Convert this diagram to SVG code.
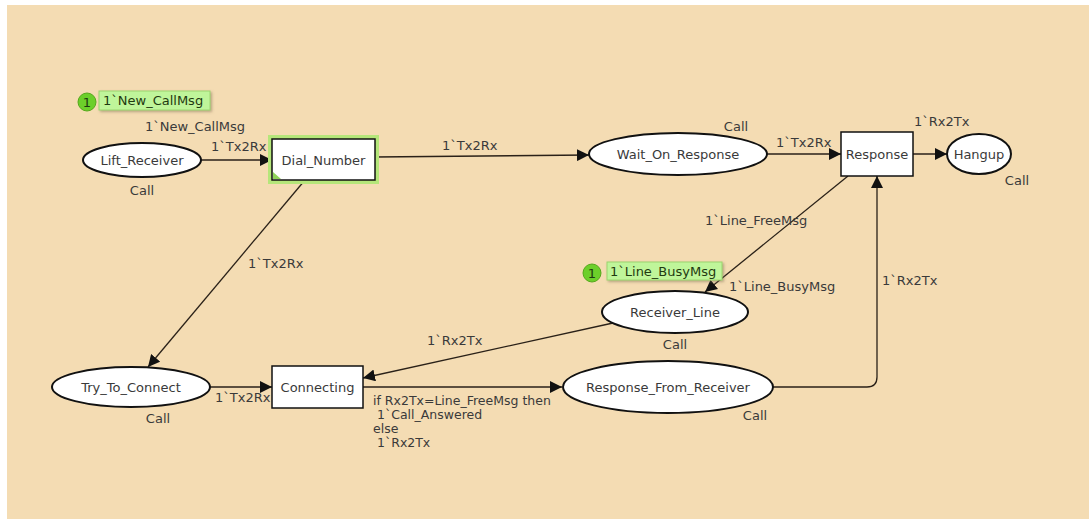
<svg xmlns="http://www.w3.org/2000/svg" width="1089" height="519" viewBox="0 0 1089 519">
<style>
.bg{fill:#F4DCB3}
.place{fill:#fff;stroke:#111;stroke-width:2}
.trans{fill:#fff;stroke:#111;stroke-width:1.5}
.lbl{font-family:"DejaVu Sans",Verdana,sans-serif;font-size:13px;fill:#3a3a3a}
.cond{font-family:"DejaVu Sans",Verdana,sans-serif;font-size:12.5px;fill:#3a3a3a}
.name{font-family:"DejaVu Sans",Verdana,sans-serif;font-size:13px;fill:#3a3a3a;text-anchor:middle}
.arc{fill:none;stroke:#2a2118;stroke-width:1.3;marker-end:url(#ah)}
.tok{fill:#6ccf2a;stroke:#55a81c;stroke-width:1}
.tokbox{fill:#bff59a;stroke:#9bd46e;stroke-width:1}
.toktxt{font-family:"DejaVu Sans",Verdana,sans-serif;font-size:13px;fill:#1f3a10}
</style>
<defs>
<marker id="ah" markerUnits="userSpaceOnUse" markerWidth="14" markerHeight="12" refX="12" refY="6" orient="auto">
<path d="M0,0 L12,6 L0,12 Z" fill="#111"/>
</marker>
<filter id="sh" x="-10%" y="-20%" width="130%" height="160%">
<feDropShadow dx="1.5" dy="1.5" stdDeviation="1" flood-color="#7a6a50" flood-opacity="0.5"/>
</filter>
</defs>
<rect x="7" y="5" width="1082" height="514" class="bg"/>

<g id="connectors">
<path class="arc" d="M201,160 L272,160"/>
<text class="lbl" x="211" y="151">1`Tx2Rx</text>
<path class="arc" d="M375,157 L589,155"/>
<text class="lbl" x="442" y="150">1`Tx2Rx</text>
<path class="arc" d="M305,180 L148,367"/>
<text class="lbl" x="248" y="268">1`Tx2Rx</text>
<path class="arc" d="M210,387 L272,387"/>
<text class="lbl" x="215" y="402">1`Tx2Rx</text>
<path class="arc" d="M363,387 L562,387"/>
<text class="cond" x="373" y="405">if Rx2Tx=Line_FreeMsg then</text>
<text class="cond" x="377" y="419">1`Call_Answered</text>
<text class="cond" x="373" y="433">else</text>
<text class="cond" x="377" y="447">1`Rx2Tx</text>
<path class="arc" d="M773,387 L867,387 Q877,387 877,377 L877,176"/>
<text class="lbl" x="882" y="285">1`Rx2Tx</text>
<path class="arc" d="M767,154 L841,154"/>
<text class="lbl" x="776" y="147">1`Tx2Rx</text>
<path class="arc" d="M913,154 L947,154"/>
<text class="lbl" x="914" y="126">1`Rx2Tx</text>
<path class="arc" d="M848,176 L705,292"/>
<text class="lbl" x="705" y="225">1`Line_FreeMsg</text>
<text class="lbl" x="729" y="291">1`Line_BusyMsg</text>
<path class="arc" d="M613,323 L363,378"/>
<text class="lbl" x="427" y="345">1`Rx2Tx</text>
</g>

<g id="Lift_Receiver">
<ellipse class="place" cx="142" cy="160" rx="59" ry="17"/>
<text class="name" x="142" y="164.5">Lift_Receiver</text>
<text class="name" x="142" y="195">Call</text>
<text class="name" x="195" y="131">1`New_CallMsg</text>
<circle class="tok" cx="87" cy="102" r="9"/>
<text class="toktxt" x="87" y="106.5" text-anchor="middle">1</text>
<rect class="tokbox" x="99" y="91" width="111" height="19" filter="url(#sh)"/>
<text class="toktxt" x="103" y="105">1`New_CallMsg</text>
</g>

<g id="Dial_Number">
<rect x="270" y="137" width="107" height="45" fill="none" stroke="#b5e67a" stroke-width="4"/>
<rect class="trans" x="272" y="139" width="103" height="41"/>
<path d="M273,179 L273,172 L281,179 Z" fill="#8fd45a"/>
<text class="name" x="323.5" y="164.5">Dial_Number</text>
</g>

<g id="Wait_On_Response">
<ellipse class="place" cx="678" cy="154" rx="89" ry="21"/>
<text class="name" x="678" y="158.5">Wait_On_Response</text>
<text class="name" x="736" y="131">Call</text>
</g>

<g id="Response">
<rect class="trans" x="841" y="132" width="72" height="44"/>
<text class="name" x="877" y="158.5">Response</text>
</g>

<g id="Hangup">
<ellipse class="place" cx="979" cy="154" rx="32" ry="20"/>
<text class="name" x="979" y="158.5">Hangup</text>
<text class="name" x="1017" y="185">Call</text>
</g>

<g id="Receiver_Line">
<ellipse class="place" cx="675" cy="312" rx="73" ry="21"/>
<text class="name" x="675" y="316.5">Receiver_Line</text>
<text class="name" x="675" y="349">Call</text>
<circle class="tok" cx="592" cy="273" r="9"/>
<text class="toktxt" x="592" y="277.5" text-anchor="middle">1</text>
<rect class="tokbox" x="607" y="262" width="115" height="18" filter="url(#sh)"/>
<text class="toktxt" x="610" y="276">1`Line_BusyMsg</text>
</g>

<g id="Try_To_Connect">
<ellipse class="place" cx="131" cy="387" rx="79" ry="20"/>
<text class="name" x="131" y="391.5">Try_To_Connect</text>
<text class="name" x="158" y="423">Call</text>
</g>

<g id="Connecting">
<rect class="trans" x="272" y="366" width="91" height="42"/>
<text class="name" x="317.5" y="391.5">Connecting</text>
</g>

<g id="Response_From_Receiver">
<ellipse class="place" cx="668" cy="387" rx="105" ry="26"/>
<text class="name" x="668" y="391.5">Response_From_Receiver</text>
<text class="name" x="755" y="420">Call</text>
</g>
</svg>
